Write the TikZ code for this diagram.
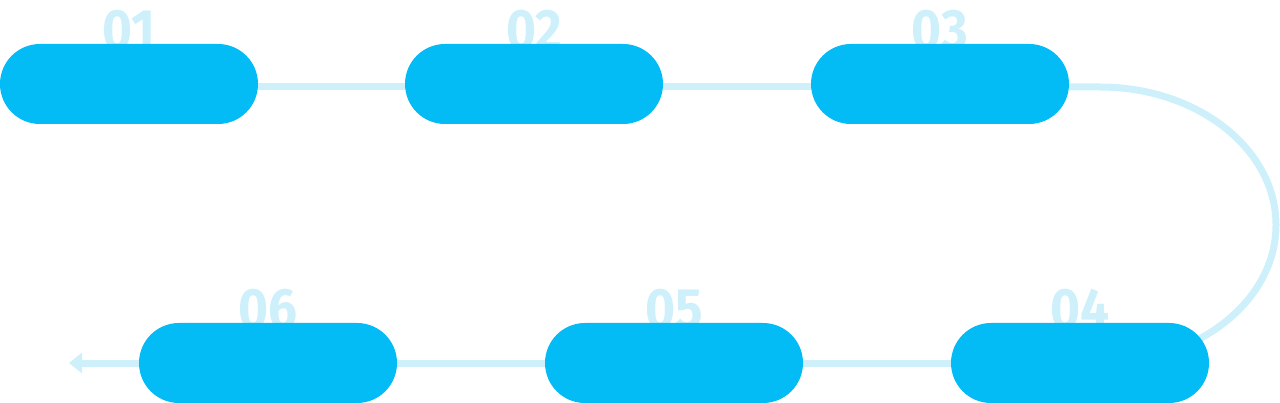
\documentclass[tikz,border=0pt]{standalone}
\usepackage{fontspec}
\newfontfamily\numfont[FakeStretch=0.9]{Fira Sans}
\usetikzlibrary{arrows.meta}
\definecolor{pillblue}{RGB}{3,188,246}
\definecolor{lightblue}{RGB}{205,240,251}
\pgfdeclarelayer{bg}
\pgfsetlayers{bg,main}
\tikzset{
  pill/.style={rectangle, rounded corners=40pt, fill=pillblue, minimum width=258pt, minimum height=80pt, inner sep=0pt},
  num/.style={text=lightblue, font=\numfont\bfseries\fontsize{57}{57}\selectfont, inner sep=0pt, anchor=base},
  conn/.style={draw=lightblue, line width=7pt}
}
\begin{document}
\begin{tikzpicture}[x=1pt,y=-1pt]
\useasboundingbox (0,0) rectangle (1280,403);
% pills
\node[pill] (p1) at (129,84) {};
\node[pill] (p2) at (534,84) {};
\node[pill] (p3) at (940,84) {};
\node[pill] (p4) at (1080,363) {};
\node[pill] (p5) at (674,363) {};
\node[pill] (p6) at (268,363) {};
\coordinate (c1) at (1100,87);
\coordinate (end) at (69,363);
\begin{pgfonlayer}{bg}
\node[num] (n1) at ([yshift=-6pt]p1.north) {01};
\node[num] (n2) at ([yshift=-6pt]p2.north) {02};
\node[num] (n3) at ([yshift=-6pt]p3.north) {03};
\node[num] (n4) at ([yshift=-6pt]p4.north) {04};
\node[num] (n5) at ([yshift=-6pt]p5.north) {05};
\node[num] (n6) at ([yshift=-6pt]p6.north) {06};
\draw[conn] ([yshift=-3pt]p1.east) -- ([yshift=-3pt]p2.west);
\draw[conn] ([yshift=-3pt]p2.east) -- ([yshift=-3pt]p3.west);
\draw[conn] ([yshift=-3pt]p3.east) -- (c1) arc[start angle=-90, end angle=90, x radius=176, y radius=138];
\draw[conn] (p4.west) -- (p5.east);
\draw[conn] (p5.west) -- (p6.east);
\draw[conn, -{Triangle[length=13pt,width=20pt]}] (p6.west) -- (end);
\end{pgfonlayer}
\end{tikzpicture}
\end{document}
